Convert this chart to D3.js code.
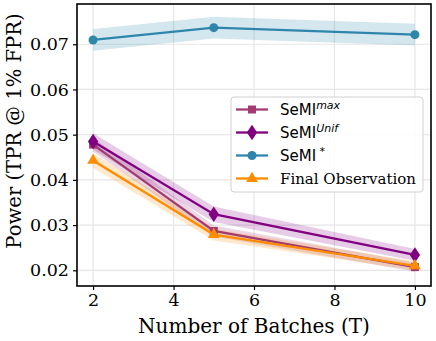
<!DOCTYPE html>
<html><head><meta charset="utf-8">
<script src="https://cdn.jsdelivr.net/npm/d3@7"></script>
<style>body{margin:0;background:#fff}</style>
</head><body>
<svg id="c" width="436" height="341"></svg>
<script>
const batches = [2, 5, 10];
const semiMax = [0.0478, 0.0287, 0.0207];
const semiMaxErr = [0.0015, 0.0012, 0.0010];
const semiUnif = [0.0485, 0.0324, 0.0234];
const semiUnifErr = [0.0018, 0.0017, 0.0013];
const semiStar = [0.07095, 0.07367, 0.07212];
const semiStarErr = [0.0024, 0.0024, 0.0024];
const finalObs = [0.0443, 0.0279, 0.0210];
const finalObsErr = [0.0016, 0.0013, 0.0010];
const xTicks = [2, 4, 6, 8, 10];
const yTicks = [0.02, 0.03, 0.04, 0.05, 0.06, 0.07];

const series = [
  {name: "max", vals: semiMax, err: semiMaxErr, color: "#a23b72", marker: "square"},
  {name: "Unif", vals: semiUnif, err: semiUnifErr, color: "#800080", marker: "diamond"},
  {name: "*", vals: semiStar, err: semiStarErr, color: "#2e86ab", marker: "circle"},
  {name: "Final Observation", vals: finalObs, err: finalObsErr, color: "#ff8c00", marker: "triangle"}
];

const svg = d3.select("#c");
const L = 77, R = 431, T = 4, B = 286;
const x = d3.scaleLinear().domain([1.6, 10.4]).range([L, R]);
const y = d3.scaleLinear().domain([0.01653, 0.0789]).range([B, T]);

// grid
const g = svg.append("g");
g.selectAll(".gx").data(xTicks).enter().append("line")
  .attr("x1", d => x(d)).attr("x2", d => x(d)).attr("y1", T).attr("y2", B)
  .attr("stroke", "#e6e6e6").attr("stroke-width", 1.2);
g.selectAll(".gy").data(yTicks).enter().append("line")
  .attr("x1", L).attr("x2", R).attr("y1", d => y(d)).attr("y2", d => y(d))
  .attr("stroke", "#e6e6e6").attr("stroke-width", 1.2);

const area = d3.area().x((d, i) => x(batches[i])).y0(d => y(d[0])).y1(d => y(d[1]));
const line = d3.line().x((d, i) => x(batches[i])).y(d => y(d));

series.forEach(s => {
  g.append("path").datum(s.vals.map((v, i) => [v - s.err[i], v + s.err[i]]))
    .attr("d", area).attr("fill", s.color).attr("fill-opacity", 0.2).attr("stroke", "none");
});

function sym(m) {
  const t = {square: d3.symbolSquare, diamond: d3.symbolDiamond, circle: d3.symbolCircle, triangle: d3.symbolTriangle}[m];
  const size = {square: 64, diamond: 70, circle: 64, triangle: 60}[m];
  return d3.symbol().type(t).size(size)();
}

series.forEach(s => {
  g.append("path").datum(s.vals).attr("d", line).attr("fill", "none")
    .attr("stroke", s.color).attr("stroke-width", 2.3);
  g.selectAll(null).data(s.vals).enter().append("path")
    .attr("d", sym(s.marker))
    .attr("transform", (d, i) => `translate(${x(batches[i])},${y(d)})` + (s.marker === "diamond" ? " scale(1.15,1)" : ""))
    .attr("fill", s.color);
});

// frame
svg.append("rect").attr("x", L).attr("y", T).attr("width", R - L).attr("height", B - T)
  .attr("fill", "none").attr("stroke", "#000").attr("stroke-width", 1.6);

// axes
const xa = svg.append("g").attr("transform", `translate(0,${B})`)
  .call(d3.axisBottom(x).tickValues(xTicks).tickSize(4).tickPadding(4).tickFormat(d3.format("d")));
const ya = svg.append("g").attr("transform", `translate(${L},0)`)
  .call(d3.axisLeft(y).tickValues(yTicks).tickSize(4).tickPadding(4).tickFormat(d3.format(".2f")));
[xa, ya].forEach(a => {
  a.select(".domain").remove();
  a.selectAll("text").attr("font-family", "DejaVu Serif").attr("font-size", 17.5).attr("fill", "#000");
  a.selectAll("line").attr("stroke", "#000").attr("stroke-width", 1.2);
});

svg.append("text").attr("x", 254).attr("y", 333).attr("text-anchor", "middle")
  .attr("font-family", "DejaVu Serif").attr("font-size", 20).text("Number of Batches (T)");
svg.append("text").attr("transform", `translate(21,131) rotate(-90)`).attr("text-anchor", "middle")
  .attr("font-family", "DejaVu Serif").attr("font-size", 19.6).text("Power (TPR @ 1% FPR)");

// legend
const lg = svg.append("g");
lg.append("rect").attr("x", 231).attr("y", 97).attr("width", 192).attr("height", 95).attr("rx", 3)
  .attr("fill", "#fff").attr("fill-opacity", 0.85).attr("stroke", "#d0d0d0").attr("stroke-width", 1);
series.forEach((s, i) => {
  const cy = 109.5 + i * 23;
  lg.append("line").attr("x1", 236).attr("x2", 268).attr("y1", cy).attr("y2", cy)
    .attr("stroke", s.color).attr("stroke-width", 2.3);
  lg.append("path").attr("d", sym(s.marker))
    .attr("transform", `translate(252,${cy})` + (s.marker === "diamond" ? " scale(1.15,1)" : ""))
    .attr("fill", s.color);
  const t = lg.append("text").attr("x", 280).attr("y", cy + 5.5).attr("font-size", 15).attr("fill", "#000");
  if (s.name === "Final Observation") {
    t.attr("font-family", "DejaVu Serif").text(s.name);
  } else {
    t.attr("font-family", "DejaVu Sans");
    t.append("tspan").text("SeMI");
    const sup = t.append("tspan").attr("dy", -6).attr("font-size", 11).text(s.name === "*" ? " *" : s.name);
    if (s.name !== "*") sup.attr("font-style", "italic");
  }
});
</script>
</body></html>
